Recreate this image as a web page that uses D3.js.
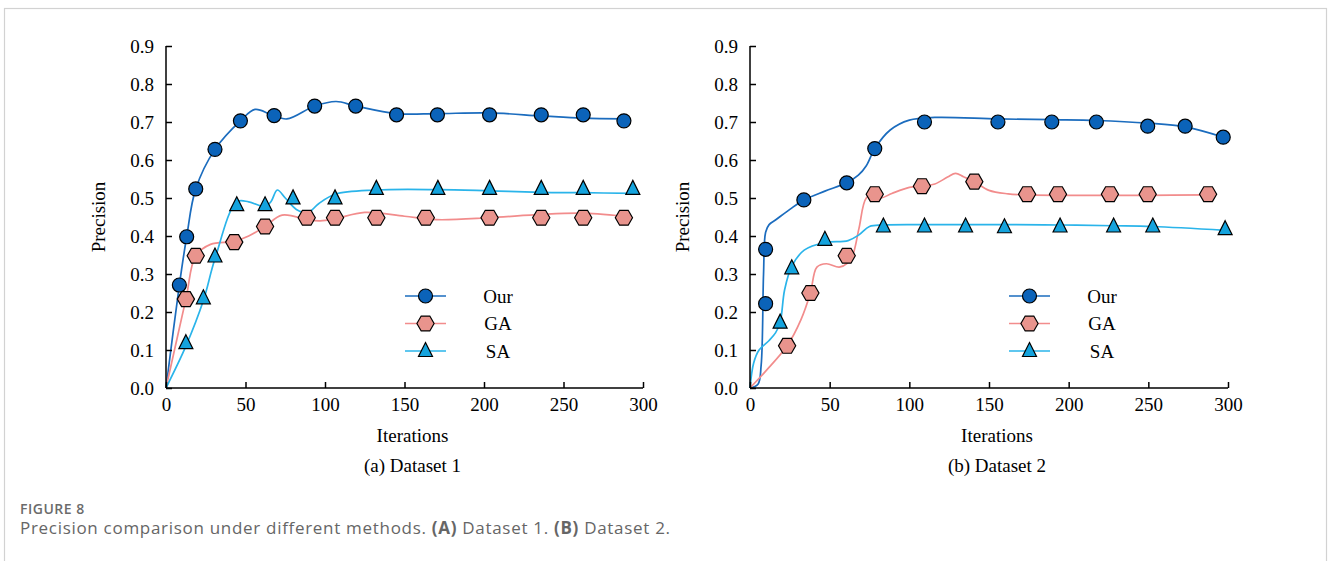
<!DOCTYPE html>
<html>
<head>
<meta charset="utf-8">
<script src="https://cdn.jsdelivr.net/npm/d3@7"></script>
<style>
  body { margin: 0; background: #fff; }
  svg { display: block; }
</style>
</head>
<body>
<svg id="chart" width="1328" height="561"></svg>
<script>
// ---- data ----
const xTicks = [0, 50, 100, 150, 200, 250, 300]
const yTicks = [0, 0.1, 0.2, 0.3, 0.4, 0.5, 0.6, 0.7, 0.8, 0.9]
const methods = ['Our', 'GA', 'SA']

// dataset 1: smoothed curves
const ourLine1 = [[0, 0], [8.4, 0.271], [13, 0.398], [18.7, 0.524], [30.8, 0.628], [46.8, 0.703], [56, 0.733], [66, 0.72], [76, 0.708], [93.5, 0.742], [107, 0.754], [119.3, 0.742], [145, 0.722], [170, 0.722], [203, 0.724], [236, 0.716], [262, 0.71], [288, 0.708]]
const gaLine1 = [[0, 0], [12.5, 0.234], [18.7, 0.348], [28, 0.378], [42.9, 0.386], [52, 0.4], [62.3, 0.425], [73, 0.455], [90, 0.442], [97, 0.44], [106, 0.445], [125, 0.462], [150, 0.452], [170, 0.443], [203, 0.448], [236, 0.457], [262, 0.46], [288, 0.452]]
const saLine1 = [[0, 0], [12.5, 0.11], [23.5, 0.23], [30.8, 0.34], [44.5, 0.49], [52, 0.49], [62.3, 0.477], [66, 0.49], [70, 0.521], [75, 0.5], [82, 0.47], [89, 0.461], [96, 0.485], [106.3, 0.51], [132, 0.521], [171, 0.522], [203, 0.519], [236, 0.515], [262, 0.514], [293.6, 0.512]]
// dataset 1: markers
const ourPts1 = [[8.4, 0.271], [13, 0.398], [18.7, 0.524], [30.8, 0.628], [46.8, 0.703], [68, 0.717], [93.5, 0.742], [119.3, 0.742], [145, 0.719], [170.7, 0.719], [203.5, 0.719], [236, 0.719], [262.4, 0.719], [288, 0.703]]
const gaPts1 = [[12.5, 0.234], [18.7, 0.348], [42.9, 0.384], [62.3, 0.425], [88.5, 0.448], [106.3, 0.448], [132.3, 0.448], [163.4, 0.448], [203.5, 0.448], [236, 0.448], [262.4, 0.448], [288, 0.448]]
const saPts1 = [[12.5, 0.118], [23.5, 0.236], [30.8, 0.346], [44.5, 0.481], [62.3, 0.481], [79.9, 0.499], [106.3, 0.499], [132.3, 0.524], [171, 0.524], [203.5, 0.524], [236, 0.524], [262.4, 0.524], [293.6, 0.524]]

// dataset 2: smoothed curves
const ourLine2 = [[0, 0], [5, 0.01], [7, 0.06], [8.5, 0.3], [9.8, 0.41], [12, 0.43], [16, 0.442], [25, 0.47], [33.8, 0.495], [47, 0.518], [60.7, 0.54], [68, 0.56], [73, 0.585], [78.3, 0.63], [88, 0.679], [100, 0.705], [116, 0.712], [155.6, 0.708], [189.4, 0.706], [217.4, 0.704], [249.6, 0.697], [273.1, 0.687], [297, 0.66]]
const gaLine2 = [[0, 0], [10, 0.045], [23.3, 0.111], [32, 0.18], [37.9, 0.25], [42, 0.318], [48, 0.327], [56, 0.318], [61, 0.328], [64.5, 0.35], [68.4, 0.42], [73, 0.5], [78.3, 0.51], [82, 0.5], [89, 0.512], [100, 0.528], [108, 0.531], [116, 0.537], [124, 0.555], [129, 0.565], [134, 0.556], [140.8, 0.543], [150, 0.52], [162, 0.511], [173.9, 0.508], [200, 0.507], [250, 0.507], [287.5, 0.508]]
const saLine2 = [[0, 0], [2.3, 0.066], [5.7, 0.1], [12, 0.125], [16, 0.145], [18.9, 0.172], [21.7, 0.258], [26.2, 0.32], [34, 0.363], [47, 0.383], [61.6, 0.388], [68.4, 0.403], [75, 0.425], [83.7, 0.429], [109.5, 0.43], [160, 0.43], [194.6, 0.429], [228.2, 0.427], [252.8, 0.425], [298.2, 0.415]]
// dataset 2: markers
const ourPts2 = [[9.8, 0.222], [9.8, 0.365], [33.8, 0.495], [60.7, 0.54], [78.3, 0.63], [109.5, 0.7], [155.6, 0.7], [189.4, 0.7], [217.4, 0.7], [249.6, 0.689], [273.1, 0.689], [297, 0.66]]
const gaPts2 = [[23.3, 0.111], [37.9, 0.25], [60.7, 0.348], [78.3, 0.51], [107.9, 0.531], [140.8, 0.543], [173.9, 0.51], [193.3, 0.51], [225.9, 0.51], [249.6, 0.51], [287.5, 0.51]]
const saPts2 = [[18.9, 0.172], [26.2, 0.315], [47, 0.39], [83.7, 0.425], [109.5, 0.425], [135.3, 0.425], [159.7, 0.423], [194.6, 0.425], [228.2, 0.425], [252.8, 0.425], [298.2, 0.418]]

// ---- styling ----
const style = {
  Our: {line: '#1b6cbe', fill: '#0b63b9', shape: 'circle'},
  GA: {line: '#f28c8c', fill: '#e9948d', shape: 'hexagon'},
  SA: {line: '#2ab4ea', fill: '#14a3dd', shape: 'triangle'}
}
const serif = '"Liberation Serif", "Times New Roman", serif'

const svg = d3.select('#chart')

// light frame around the figure
svg.append('rect')
  .attr('x', 4.5).attr('y', 8.5)
  .attr('width', 1322).attr('height', 620)
  .attr('fill', 'none')
  .attr('stroke', '#d2d2d2')
  .attr('stroke-width', 1.2)

function markerPath (shape) {
  if (shape === 'circle') return d3.symbol(d3.symbolCircle, Math.PI * 7 * 7)()
  if (shape === 'triangle') {
    return d3.line()([[0, -8.5], [7, 5.5], [-7, 5.5]]) + 'Z'
  }
  const r = 8.6
  const verts = d3.range(6).map(i => [r * Math.cos(i * Math.PI / 3), r * Math.sin(i * Math.PI / 3)])
  return d3.line()(verts) + 'Z'
}

function drawPanel (opts) {
  const g = svg.append('g')
  const x = d3.scaleLinear().domain([0, 300]).range([opts.x0, opts.x1])
  const y = d3.scaleLinear().domain([0, 0.9]).range([388, 46])

  const line = d3.line()
    .x(d => x(d[0]))
    .y(d => y(d[1]))
    .curve(d3.curveCatmullRom.alpha(0.5))

  opts.series.forEach(s => {
    g.append('path')
      .attr('d', line(s.line))
      .attr('fill', 'none')
      .attr('stroke', style[s.name].line)
      .attr('stroke-width', 1.7)
  })

  const xAxis = g.append('g')
    .attr('transform', `translate(0,${y(0)})`)
    .call(d3.axisBottom(x).tickValues(xTicks).tickSizeInner(-6).tickSizeOuter(0).tickPadding(10))
  const yAxis = g.append('g')
    .attr('transform', `translate(${x(0)},0)`)
    .call(d3.axisLeft(y).tickValues(yTicks).tickFormat(d3.format('.1f')).tickSizeInner(-6).tickSizeOuter(0).tickPadding(12))

  ;[xAxis, yAxis].forEach(a => {
    a.selectAll('path, line').attr('stroke', '#000').attr('stroke-width', 1.5)
    a.selectAll('text').attr('font-family', serif).attr('font-size', 19).attr('fill', '#000')
  })
  xAxis.select('.domain').attr('d', `M${x(0)},0H${x(300)}`)
  yAxis.select('.domain').attr('d', `M0,${y(0)}V${y(0.9)}`)

  opts.series.forEach(s => {
    g.selectAll(null)
      .data(s.pts)
      .enter()
      .append('path')
      .attr('transform', d => `translate(${x(d[0])},${y(d[1])})`)
      .attr('d', markerPath(style[s.name].shape))
      .attr('fill', style[s.name].fill)
      .attr('stroke', '#000')
      .attr('stroke-width', 1.2)
  })

  // legend
  methods.forEach((m, i) => {
    const ly = 296 + i * 27.5
    g.append('line')
      .attr('x1', opts.legendX).attr('x2', opts.legendX + 41)
      .attr('y1', ly).attr('y2', ly)
      .attr('stroke', style[m].line)
      .attr('stroke-width', 1.7)
    g.append('path')
      .attr('transform', `translate(${opts.legendX + 20.5},${ly})`)
      .attr('d', markerPath(style[m].shape))
      .attr('fill', style[m].fill)
      .attr('stroke', '#000')
      .attr('stroke-width', 1.2)
    g.append('text')
      .attr('x', opts.legendX + 93).attr('y', ly + 6.5)
      .attr('text-anchor', 'middle')
      .attr('font-family', serif).attr('font-size', 19)
      .text(m)
  })

  const cx = (opts.x0 + opts.x1) / 2 + 8
  g.append('text')
    .attr('x', cx).attr('y', 442)
    .attr('text-anchor', 'middle')
    .attr('font-family', serif).attr('font-size', 19)
    .text('Iterations')
  g.append('text')
    .attr('x', cx).attr('y', 472)
    .attr('text-anchor', 'middle')
    .attr('font-family', serif).attr('font-size', 19)
    .text(opts.title)
  g.append('text')
    .attr('transform', `translate(${opts.x0 - 61},${(y(0) + y(0.9)) / 2}) rotate(-90)`)
    .attr('text-anchor', 'middle')
    .attr('font-family', serif).attr('font-size', 19)
    .text('Precision')
}

drawPanel({
  x0: 166, x1: 643, legendX: 405, title: '(a) Dataset 1',
  series: [
    {name: 'Our', line: ourLine1, pts: ourPts1},
    {name: 'GA', line: gaLine1, pts: gaPts1},
    {name: 'SA', line: saLine1, pts: saPts1}
  ]
})

drawPanel({
  x0: 750, x1: 1228, legendX: 1009, title: '(b) Dataset 2',
  series: [
    {name: 'Our', line: ourLine2, pts: ourPts2},
    {name: 'GA', line: gaLine2, pts: gaPts2},
    {name: 'SA', line: saLine2, pts: saPts2}
  ]
})

// figure caption
const sans = '"Open Sans", "Noto Sans", sans-serif'
svg.append('text')
  .attr('x', 20).attr('y', 514)
  .attr('font-family', sans).attr('font-size', 14).attr('font-weight', 600)
  .attr('letter-spacing', 0.5)
  .attr('fill', '#6b6b6b')
  .text('FIGURE 8')
const cap = svg.append('text')
  .attr('x', 20).attr('y', 534)
  .attr('font-family', sans).attr('font-size', 17)
  .attr('letter-spacing', 0.7)
  .attr('fill', '#666')
cap.append('tspan').text('Precision comparison under different methods. ')
cap.append('tspan').attr('font-weight', 700).text('(A)')
cap.append('tspan').text(' Dataset 1. ')
cap.append('tspan').attr('font-weight', 700).text('(B)')
cap.append('tspan').text(' Dataset 2.')
</script>
</body>
</html>
